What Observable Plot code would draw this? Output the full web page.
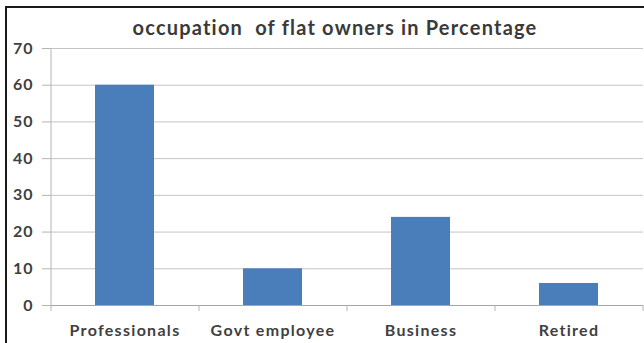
<!DOCTYPE html>
<html>
<head>
<meta charset="utf-8">
<script src="https://cdn.jsdelivr.net/npm/d3@7"></script>
<script src="https://cdn.jsdelivr.net/npm/@observablehq/plot@0.6"></script>
<style>
  html, body { margin: 0; padding: 0; background: #fff; }
  #wrap { position: relative; width: 644px; height: 343px; overflow: hidden; background: #fff; }
  #border { position: absolute; left: 5px; top: 6px; width: 700px; height: 400px; border-top: 2px solid #1a1a1a; border-left: 2px solid #1a1a1a; }
  #title { position: absolute; top: 15px; left: 0; width: 670px; text-align: center; font-family: Lato, sans-serif; font-weight: 700; font-size: 20px; letter-spacing: 1.2px; color: #3a3a3a; white-space: nowrap; }
  #chart { position: absolute; left: 0; top: 0; }
  #chart g[aria-label="x-axis tick label"] text { letter-spacing: 1.3px; }
  #chart g[aria-label="y-axis tick label"] text { letter-spacing: 1px; }
</style>
</head>
<body>
<div id="wrap">
  <div id="border"></div>
  <div id="chart"></div>
  <div id="title">occupation&nbsp; of flat owners in Percentage</div>
</div>
<script>
const categories = ["Professionals", "Govt employee", "Business", "Retired"];
const percentages = [60, 10, 24, 6];
const yTicks = [0, 10, 20, 30, 40, 50, 60, 70];

const data = categories.map((c, i) => ({category: c, value: percentages[i]}));

const plot = Plot.plot({
  width: 644,
  height: 343,
  marginLeft: 51,
  marginRight: 1,
  marginTop: 48,
  marginBottom: 38,
  style: {fontFamily: "Lato, sans-serif", background: "transparent", overflow: "visible"},
  x: {domain: categories, paddingInner: 0.6, paddingOuter: 0.3, label: null},
  y: {domain: [0, 70], label: null},
  marks: [
    Plot.gridY(yTicks, {stroke: "#c4c4c4", strokeOpacity: 1}),
    Plot.axisY(yTicks, {tickSize: 9, tickPadding: 9, stroke: "#b4b4b4", fontSize: 16, fontWeight: 700, fill: "#3f3f3f", tickFormat: d => String(d)}),
    Plot.barY(data, {x: "category", y: "value", fill: "#4a7ebb"}),
    Plot.axisX({tickSize: 0, tickPadding: 19, fontSize: 16, fontWeight: 700, fill: "#3f3f3f"}),
    Plot.ruleY([0], {stroke: "#a6a6a6"})
  ]
});

document.getElementById("chart").appendChild(plot);

// vertical y-axis line and category boundary ticks, from the plot's scales
const xs = plot.scale("x");
const ys = plot.scale("y");
const svg = d3.select(plot);
const step = xs.step;
const x0 = xs.range[0];
const yBottom = ys.apply(0);
const yTop = ys.apply(70);
svg.append("line")
  .attr("x1", x0).attr("x2", x0)
  .attr("y1", yTop).attr("y2", yBottom)
  .attr("stroke", "#b4b4b4");
for (let i = 0; i <= categories.length; i++) {
  const bx = x0 + i * step;
  svg.append("line")
    .attr("x1", bx).attr("x2", bx)
    .attr("y1", yBottom).attr("y2", yBottom + 6)
    .attr("stroke", "#b4b4b4");
}
</script>
</body>
</html>
